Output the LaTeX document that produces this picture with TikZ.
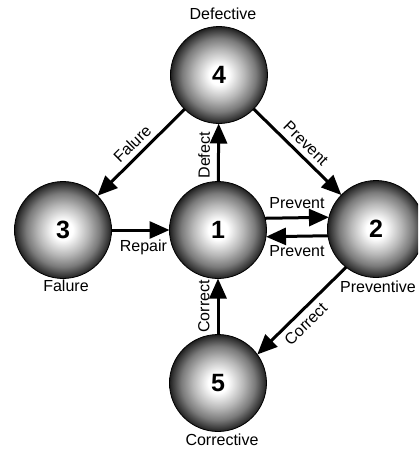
\documentclass[tikz,border=0pt]{standalone}
\usepackage{fontspec}
\setmainfont{Liberation Sans}
\usetikzlibrary{arrows.meta}
\pgfdeclareradialshading{sphere}{\pgfpoint{0bp}{0bp}}{color(0bp)=(white); color(5bp)=(white); color(13bp)=(black!28); color(19bp)=(black!52); color(23.5bp)=(black!78); color(25bp)=(black!88); color(50bp)=(black!88)}
\begin{document}
\begin{tikzpicture}[x=1pt,y=-1pt,
  ball/.style={circle, minimum size=97pt, inner sep=0pt, outer sep=0pt, draw=black, line width=0.8pt, shading=sphere, font=\fontsize{25}{25}\selectfont\bfseries},
  flow/.style={line width=3pt, -{Triangle[length=20pt,width=17pt]}},
  lbl/.style={font=\fontsize{16}{16}\selectfont, inner sep=8pt},
  dlbl/.style={font=\fontsize{16}{16}\selectfont, inner sep=5pt},
  vlbl/.style={font=\fontsize{16}{16}\selectfont, inner sep=7pt},
  captxt/.style={font=\fontsize{16}{16}\selectfont, inner sep=0pt}]
\path[use as bounding box] (0,0) rectangle (418,450);
\clip (0,0) rectangle (418,450);
\node[ball] (n4) at (219,75) {4};
\node[ball] (n1) at (218,230) {1};
\node[ball] (n3) at (63,230) {3};
\node[ball] (n2) at (376,229) {2};
\node[ball] (n5) at (218,383) {5};
\node[captxt] (c4) at (223,14) {Defective};
\node[captxt] (c3) at (66,286) {Falure};
\node[captxt] (c2) at (378,287) {Preventive};
\node[captxt] (c5) at (222,440) {Corrective};
\draw[flow] (n1) -- node[vlbl, sloped, above, pos=0.45] {Defect} (n4);
\draw[flow] (n4) -- node[dlbl, sloped, above] {Falure} (n3);
\draw[flow] (n4) -- node[dlbl, sloped, above] {Prevent} (n2);
\draw[flow] (n3) -- node[lbl, below, pos=0.55] {Repair} (n1);
\draw[flow] (n1.14) -- node[lbl, above] {Prevent} (n2.166);
\draw[flow] (n2.188) -- node[lbl, below] {Prevent} (n1.-8);
\draw[flow] (n5) -- node[vlbl, sloped, above] {Correct} (n1);
\draw[flow] (n2.232) -- node[dlbl, sloped, below, pos=0.55] {Correct} (n5.36);
\end{tikzpicture}
\end{document}
